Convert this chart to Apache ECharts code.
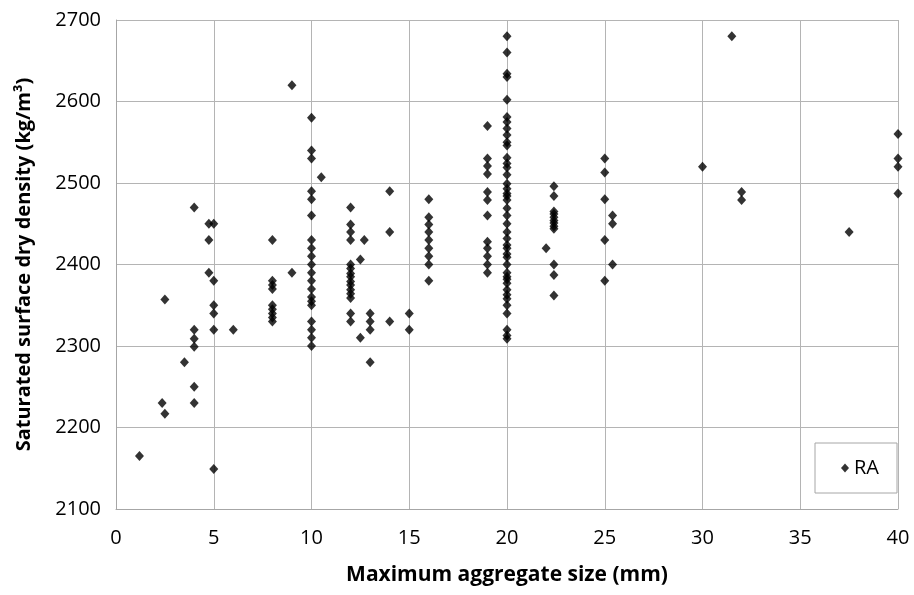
<!DOCTYPE html>
<html>
<head>
<meta charset="utf-8">
<script src="https://cdn.jsdelivr.net/npm/echarts@6/dist/echarts.min.js"></script>
<style>
html,body{margin:0;padding:0;background:#fff;}
#chart{width:914px;height:595px;}
</style>
</head>
<body>
<div id="chart"></div>
<script>
// Maximum aggregate size (mm) for each group of specimens
const sizes = [1.2, 2.36, 2.5, 3.5, 4.0, 4.75, 5.0, 6.0, 8, 9, 10, 10.5, 12, 12.5, 12.7, 13, 14, 15, 16, 19, 20, 22, 22.4, 25, 25.4, 30, 31.5, 32, 37.5, 40];
// Saturated surface dry density (kg/m3) for each size above
const densities = [
  [2165],
  [2230],
  [2357, 2217],
  [2280],
  [2470, 2320, 2309, 2299, 2250, 2230],
  [2450, 2430, 2390],
  [2450, 2380, 2350, 2340, 2320, 2149],
  [2320],
  [2430, 2380, 2375, 2370, 2350, 2345, 2340, 2335, 2330],
  [2620, 2390],
  [2580, 2540, 2530, 2490, 2480, 2460, 2430, 2420, 2410, 2400, 2390, 2380, 2370, 2360, 2355, 2350, 2330, 2320, 2310, 2300],
  [2507],
  [2470, 2449, 2440, 2430, 2400, 2395, 2389, 2385, 2379, 2375, 2369, 2364, 2359, 2340, 2330],
  [2406, 2310],
  [2430],
  [2340, 2330, 2320, 2280],
  [2490, 2440, 2330],
  [2340, 2320],
  [2480, 2458, 2449, 2440, 2430, 2420, 2410, 2400, 2380],
  [2570, 2530, 2521, 2511, 2489, 2479, 2460, 2428, 2420, 2410, 2400, 2390],
  [2680, 2660, 2634, 2630, 2602, 2581, 2575, 2567, 2559, 2550, 2546, 2531, 2524, 2519, 2510, 2499, 2493, 2487, 2484, 2479, 2469, 2460, 2450, 2440, 2432, 2424, 2420, 2413, 2409, 2400, 2390, 2385, 2382, 2377, 2369, 2363, 2358, 2350, 2340, 2320, 2313, 2309],
  [2420],
  [2496, 2484, 2465, 2462, 2458, 2454, 2451, 2447, 2444, 2400, 2387, 2362],
  [2530, 2513, 2480, 2430, 2380],
  [2460, 2450, 2400],
  [2520],
  [2680],
  [2489, 2479],
  [2440],
  [2560, 2530, 2520, 2487]
];
const xTicks = {min: 0, max: 40, step: 5};
const yTicks = {min: 2100, max: 2700, step: 100};
const seriesName = 'RA';

const points = [];
sizes.forEach((s, i) => densities[i].forEach(d => points.push([s, d])));

const FONT = '"Open Sans", "Liberation Sans", sans-serif';
const chart = echarts.init(document.getElementById('chart'), null, {renderer: 'canvas'});
chart.setOption({
  animation: false,
  backgroundColor: '#ffffff',
  grid: {left: 116, right: 16, top: 20, bottom: 86, containLabel: false},
  legend: {
    data: [{name: seriesName, icon: 'diamond'}],
    right: 17, bottom: 102,
    orient: 'vertical',
    backgroundColor: '#ffffff',
    borderColor: '#a6a6a6', borderWidth: 1,
    padding: [15, 18, 15, 26],
    itemWidth: 8, itemHeight: 9, itemGap: 0,
    textStyle: {fontFamily: FONT, fontSize: 20, color: '#000'}
  },
  xAxis: {
    type: 'value', min: xTicks.min, max: xTicks.max, interval: xTicks.step,
    name: 'Maximum aggregate size (mm)', nameLocation: 'middle', nameGap: 56,
    nameTextStyle: {fontFamily: FONT, fontSize: 21, fontWeight: 'bold', color: '#000'},
    axisLine: {show: true, lineStyle: {color: '#a6a6a6', width: 1}},
    axisTick: {show: false},
    axisLabel: {fontFamily: FONT, fontSize: 20, color: '#000', margin: 19, formatter: v => String(v)},
    splitLine: {show: true, lineStyle: {color: '#b4b4b4', width: 1}}
  },
  yAxis: {
    type: 'value', min: yTicks.min, max: yTicks.max, interval: yTicks.step,
    name: 'Saturated surface dry density (kg/m³)', nameLocation: 'middle', nameGap: 82,
    nameTextStyle: {fontFamily: FONT, fontSize: 20, fontWeight: 'bold', color: '#000'},
    axisLine: {show: true, lineStyle: {color: '#a6a6a6', width: 1}},
    axisTick: {show: false},
    axisLabel: {fontFamily: FONT, fontSize: 20, color: '#000', margin: 15, formatter: v => String(v)},
    splitLine: {show: true, lineStyle: {color: '#b4b4b4', width: 1}}
  },
  series: [{
    name: seriesName, type: 'scatter', data: points,
    symbol: 'diamond', symbolSize: [9, 10],
    itemStyle: {color: '#000000'}
  }]
});
</script>
</body>
</html>
